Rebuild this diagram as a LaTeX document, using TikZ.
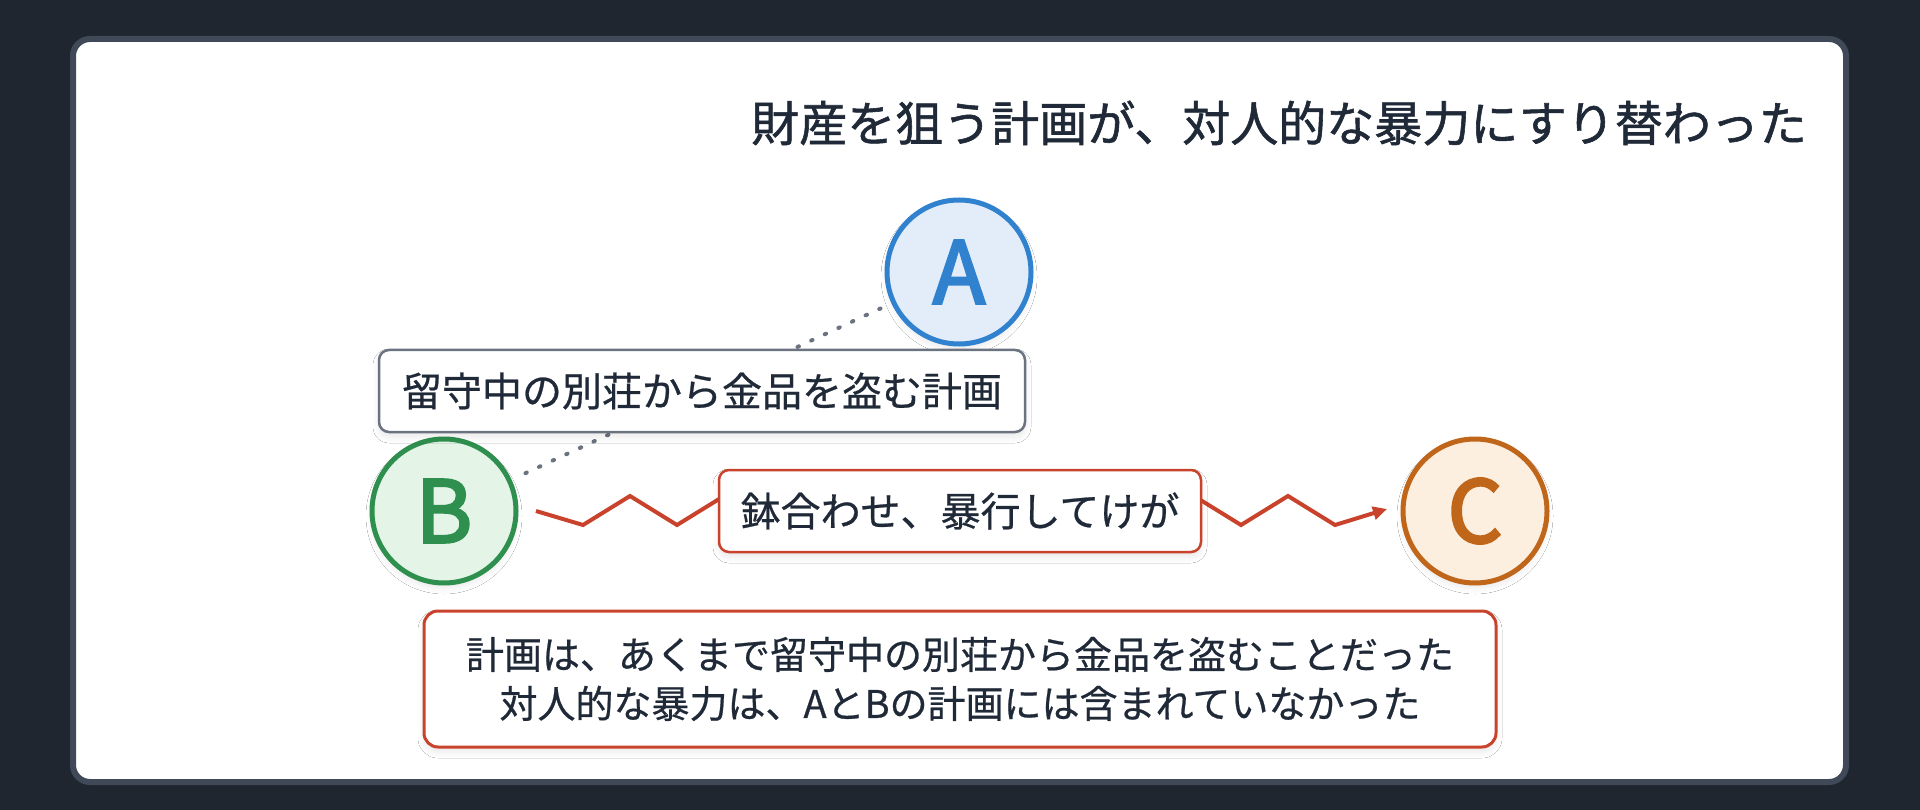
\documentclass[tikz,border=0pt]{standalone}
\usepackage{fontspec}
\setmainfont{Noto Sans CJK JP}
\newfontfamily\titlefont{Noto Sans CJK JP}[FakeBold=1.2]
\newfontfamily\labelfont{Noto Sans CJK JP}[FakeBold=0.6]
\newfontfamily\letterfont{Noto Sans CJK JP}[FakeBold=3]
\usetikzlibrary{arrows.meta,calc,shadows.blur}
\definecolor{bgdark}{HTML}{1F2630}
\definecolor{cardborder}{HTML}{3F4958}
\definecolor{textdark}{HTML}{1F2937}
\definecolor{slategray}{HTML}{6B7280}
\definecolor{redline}{HTML}{C9432C}
\definecolor{blueA}{HTML}{3182CE}
\definecolor{bluefill}{HTML}{E3EDF9}
\definecolor{greenB}{HTML}{2F8F4E}
\definecolor{greenfill}{HTML}{E4F5E8}
\definecolor{orangeC}{HTML}{C0661A}
\definecolor{orangefill}{HTML}{FDEFDF}
\begin{document}
\begin{tikzpicture}[x=1pt,y=-1pt,
  softshadow/.style={blur shadow={shadow xshift=0pt, shadow yshift=-5pt, shadow blur radius=6pt, shadow opacity=9, shadow blur steps=6}},
  card/.style={draw=cardborder, line width=6pt, fill=white, rounded corners=17pt},
  person/.style={circle, minimum size=144pt, inner sep=0pt, line width=5pt, softshadow,
    font=\letterfont\fontsize{86}{86}\selectfont},
  labelbox/.style={rectangle, rounded corners=10pt, fill=white, line width=2.5pt, inner sep=0pt,
    text=textdark, font=\labelfont\fontsize{40}{48}\selectfont, softshadow},
  dotline/.style={draw=slategray, line width=4pt, line cap=round, dash pattern=on 1.5pt off 13.5pt,
    shorten >=12pt, shorten <=12pt},
  zig/.style={draw=redline, line width=4pt, line join=miter, -{Triangle[length=14pt,width=13pt]}},
  titletext/.style={anchor=east, inner sep=0pt, text=textdark, font=\titlefont\fontsize{48}{58}\selectfont}
]
\useasboundingbox (0,0) rectangle (1920,810);
\fill[bgdark] (0,0) rectangle (1920,810);
\path[card] (73,39) rectangle (1846,782);

\node[titletext] (title) at (1807,123) {財産を狙う計画が、対人的な暴力にすり替わった};

\node[person, draw=blueA, fill=bluefill, text=blueA] (A) at (959,272) {A};
\node[person, draw=greenB, fill=greenfill, text=greenB] (B) at (444,511) {B};
\node[person, draw=orangeC, fill=orangefill, text=orangeC] (C) at (1475,511) {C};

\draw[dotline] (A) -- (B);

\coordinate (zs) at ($(B.east)+(17.5,0)$);
\coordinate (ze) at ($(C.west)+(-13.5,-2)$);
\draw[zig] (zs) -- ++(47,14) \foreach \i in {1,...,8}{ -- ++(47,-29) -- ++(47,29)} -- (ze);

\node[labelbox, draw=slategray, minimum width=646pt, minimum height=82pt] (plan) at (702,391)
  {留守中の別荘から金品を盗む計画};
\node[labelbox, draw=redline, minimum width=482pt, minimum height=82pt] (clash) at (960,511)
  {鉢合わせ、暴行してけが};
\node[labelbox, draw=redline, line width=3pt, rounded corners=14pt, minimum width=1072pt, minimum height=136pt,
  align=center, font=\labelfont\fontsize{38}{49}\selectfont] (note) at (960,679)
  {計画は、あくまで留守中の別荘から金品を盗むことだった\\対人的な暴力は、AとBの計画には含まれていなかった};
\end{tikzpicture}
\end{document}
